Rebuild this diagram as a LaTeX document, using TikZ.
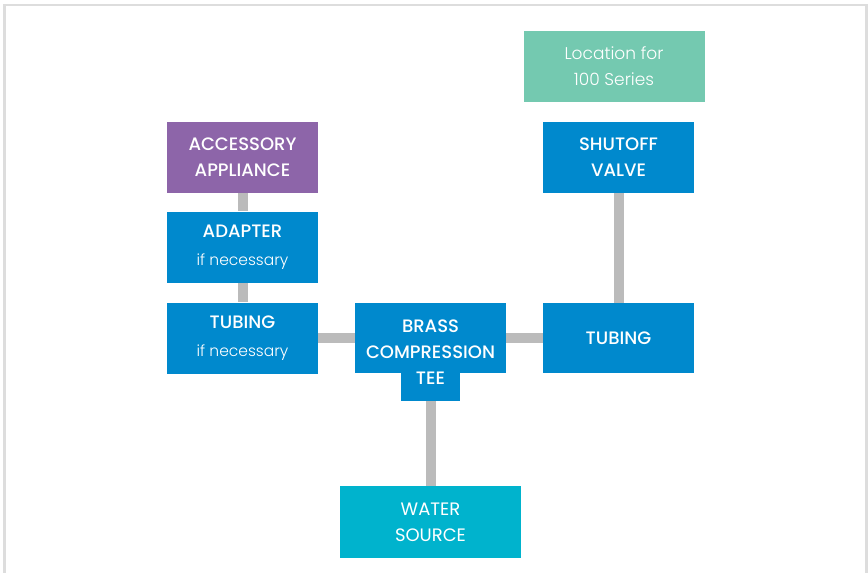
\documentclass[tikz,border=0pt]{standalone}
\usepackage{fontspec}
\setmainfont{Poppins}
\newfontfamily\medfont{Poppins Medium}
\newfontfamily\lightfont{Poppins Light}
\usetikzlibrary{backgrounds}
\definecolor{bblue}{HTML}{0089CD}
\definecolor{bpurple}{HTML}{8D65A9}
\definecolor{bgreen}{HTML}{74C9B0}
\definecolor{bcyan}{HTML}{00B3CD}
\definecolor{pipe}{HTML}{BBBBBB}
\definecolor{frame}{HTML}{DDDDDD}
\tikzset{
  box/.style={fill=bblue, text=white, minimum width=151pt, minimum height=71pt,
    inner sep=0pt, align=center, font=\medfont\fontsize{18}{26}\selectfont},
  pipeline/.style={draw=pipe, line width=10pt},
}
\newcommand{\smalltxt}{\lightfont\fontsize{15.5}{26}\selectfont}
\begin{document}
\begin{tikzpicture}[x=1pt,y=-1pt]
\useasboundingbox (0,0) rectangle (868,573);
\begin{scope}[on background layer]
\fill[white] (0,0) rectangle (868,573);
\end{scope}
\draw[frame, line width=2.5pt] (4.5,590) -- (4.5,5) -- (866.5,5) -- (866.5,590);
% nodes
\node[box, fill=bgreen, minimum width=181pt, font=\lightfont\fontsize{17}{26}\selectfont] (loc) at (614,66.5) {Location for\\100 Series};
\node[box] (shut) at (618.5,157) {SHUTOFF\\VALVE};
\node[box, fill=bpurple] (acc) at (242.5,157) {ACCESSORY\\APPLIANCE};
\node[box, font=\medfont\fontsize{18}{28}\selectfont] (adp) at (242.5,247) {ADAPTER\\{\smalltxt if necessary}};
\node[box, font=\medfont\fontsize{18}{28}\selectfont] (tubl) at (242.5,338) {TUBING\\{\smalltxt if necessary}};
\node[box, minimum height=70pt] (tubr) at (618.5,338) {TUBING};
\node[box, minimum width=59pt, minimum height=28pt] (teestem) at (430.5,387) {};
\node[box, minimum height=70pt] (tee) at (430.5,338) {};
\node[box, fill=none, minimum height=0pt] (teetext) at (430.5,352) {BRASS\\COMPRESSION\\TEE};
\node[box, fill=bcyan, minimum width=181pt, minimum height=72pt, font=\fontsize{18}{26}\selectfont] (water) at (430.5,522) {WATER\\SOURCE};
% connectors
\begin{scope}[on background layer]
\draw[pipeline] (acc.south) -- (adp.north);
\draw[pipeline] (adp.south) -- (tubl.north);
\draw[pipeline] (tubl.east) -- (tee.west);
\draw[pipeline] (tee.east) -- (tubr.west);
\draw[pipeline] (shut.south) -- (tubr.north);
\draw[pipeline] (teestem.south) -- (water.north);
\end{scope}
\end{tikzpicture}
\end{document}
